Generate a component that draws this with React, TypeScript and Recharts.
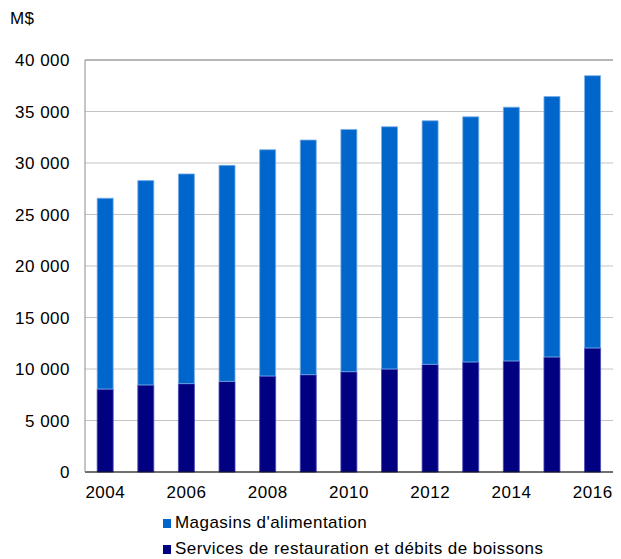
import React from "react";
import {
  BarChart,
  Bar,
  XAxis,
  YAxis,
  CartesianGrid,
  ReferenceLine,
} from "recharts";

const years = [2004, 2005, 2006, 2007, 2008, 2009, 2010, 2011, 2012, 2013, 2014, 2015, 2016];
const restauration = [8050, 8450, 8580, 8800, 9320, 9450, 9740, 10000, 10450, 10680, 10780, 11170, 12040];
const magasins = [18530, 19840, 20360, 20970, 21970, 22780, 23520, 23520, 23650, 23800, 24640, 25280, 26440];
const yTicks = [0, 5000, 10000, 15000, 20000, 25000, 30000, 35000, 40000];

const data = years.map((year, i) => ({
  year: String(year),
  restauration: restauration[i],
  magasins: magasins[i],
}));

const FONT = "'Liberation Sans', Arial, sans-serif";
const tickStyle = { fontSize: 17, fontFamily: FONT, fill: "#000", letterSpacing: 0.5 };

const fmt = (v: number) => String(v).replace(/\B(?=(\d{3})+(?!\d))/g, " ");

const legendItems = [
  { label: "Magasins d'alimentation", color: "#0066CC" },
  { label: "Services de restauration et débits de boissons", color: "#000080" },
];

export default function App() {
  return (
    <div
      style={{
        position: "absolute",
        left: 0,
        top: 0,
        width: 621,
        height: 559,
        background: "#fff",
        fontFamily: FONT,
        letterSpacing: 0.45,
      }}
    >
      <div style={{ position: "absolute", left: 10, top: 9, fontSize: 17 }}>M$</div>
      <BarChart
        width={621}
        height={559}
        data={data}
        margin={{ top: 60, right: 8, bottom: 57, left: 0 }}
        barCategoryGap="30%"
      >
        <CartesianGrid vertical={false} stroke="#c4c4c4" />
        <XAxis
          dataKey="year"
          interval={1}
          height={30}
          tick={tickStyle}
          tickLine={false}
          tickMargin={8}
          axisLine={{ stroke: "#000" }}
        />
        <YAxis
          domain={[0, 40000]}
          ticks={yTicks}
          width={85}
          tick={tickStyle}
          tickFormatter={fmt}
          tickLine={false}
          tickMargin={9}
          axisLine={{ stroke: "#8c8c8c" }}
        />
        <YAxis
          yAxisId="right"
          orientation="right"
          width={0}
          tick={false}
          tickLine={false}
          axisLine={{ stroke: "#8c8c8c" }}
        />
        <ReferenceLine y={40000} stroke="#8c8c8c" />
        <Bar
          dataKey="restauration"
          stackId="a"
          fill="#000080"
          stroke="#4848b8"
          strokeWidth={0.8}
          isAnimationActive={false}
        />
        <Bar
          dataKey="magasins"
          stackId="a"
          fill="#0066CC"
          stroke="#78aee6"
          strokeWidth={0.8}
          isAnimationActive={false}
        />
      </BarChart>
      <div style={{ position: "absolute", left: 163, top: 510, fontSize: 17 }}>
        {legendItems.map((item) => (
          <div
            key={item.label}
            style={{ display: "flex", alignItems: "center", height: 26 }}
          >
            <span
              style={{
                display: "inline-block",
                width: 8,
                height: 9,
                background: item.color,
                marginRight: 4,
              }}
            />
            <span>{item.label}</span>
          </div>
        ))}
      </div>
    </div>
  );
}
